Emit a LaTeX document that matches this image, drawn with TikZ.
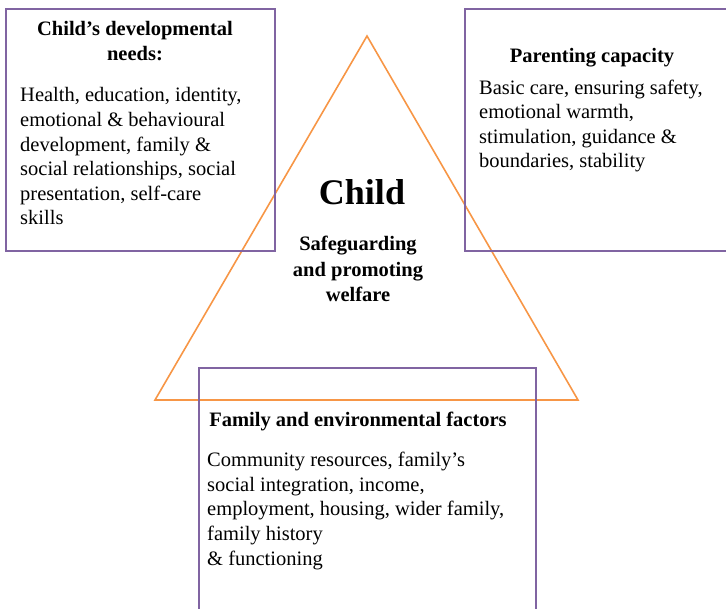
\documentclass[tikz,border=0pt]{standalone}
\usepackage{fontspec}
\setmainfont{Liberation Serif}
\definecolor{boxpurple}{HTML}{8064A2}
\definecolor{triorange}{HTML}{F79646}

\begin{document}
\begin{tikzpicture}[x=1pt,y=-1pt,
  box/.style={draw=boxpurple,line width=1.8pt},
  tri/.style={draw=triorange,line width=1.6pt,line join=miter},
  head/.style={inner sep=0pt,anchor=base,align=center,font=\fontsize{20.5}{25.5}\selectfont\bfseries},
  body/.style={inner sep=0pt,anchor=base west,align=left,font=\fontsize{20.5}{24.6}\selectfont}]

  \useasboundingbox (0,0) rectangle (726,609);
  \clip (0,0) rectangle (726,609);

  % the triangle
  \coordinate (top) at (367,36);
  \coordinate (bl) at (155,400);
  \coordinate (br) at (578,400);
  \draw[tri] (top) -- (bl) -- (br) -- cycle;

  % the three boxes
  \draw[box] (6,9) rectangle (275,251);
  \draw[box] (465,9) rectangle (732,251);
  \draw[box] (199,368) rectangle (536,616);

  % nodes sit on the baseline of their last line
  \node[inner sep=0pt,anchor=base,font=\fontsize{36}{40}\selectfont\bfseries](child) at (362,205) {Child};
  \node[head](safe) at (358,302) {Safeguarding\\and promoting\\welfare};

  \node[head](needs) at (135,61) {Child’s developmental\\needs:};
  \node[body](needstxt) at (20,225) {Health, education, identity,\\emotional \& behavioural\\development, family \&\\social relationships, social\\presentation, self-care\\skills};

  \node[head](parent) at (592,63) {Parenting capacity};
  \node[body](parenttxt) at (479,168) {Basic care, ensuring safety,\\emotional warmth,\\stimulation, guidance \&\\boundaries, stability};

  \node[head](family) at (358,427) {Family and environmental factors};
  \node[body](familytxt) at (207,565) {Community resources, family’s\\social integration, income,\\employment, housing, wider family,\\family history\\\& functioning};

\end{tikzpicture}
\end{document}
